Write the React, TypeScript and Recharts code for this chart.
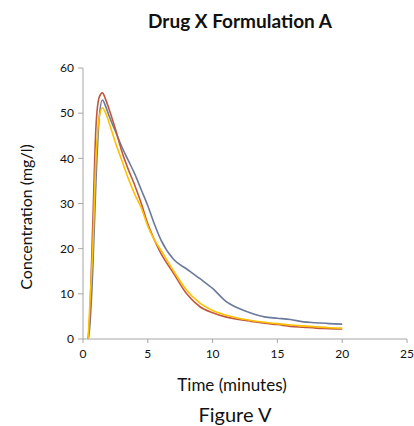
import { Line, LineChart, XAxis, YAxis } from "recharts";

const times = [0.4, 0.5, 0.75, 1, 1.25, 1.5, 1.75, 2, 2.5, 3, 3.5, 4, 4.5, 5, 5.5, 6, 7, 8, 9, 10, 11, 12, 13, 14, 15, 16, 17, 18, 19, 20];
const seriesBlue = [0, 2, 15, 35, 49, 52.9, 51.5, 49.5, 46, 42.5, 39.5, 36.5, 33, 29.5, 25.5, 22, 17.6, 15.5, 13.4, 11.2, 8.4, 6.8, 5.7, 4.9, 4.6, 4.3, 3.8, 3.6, 3.4, 3.3];
const seriesRed = [0, 4, 25, 47, 53.5, 54.5, 53, 51, 46.5, 41.5, 37.5, 34, 30, 25.5, 22, 19, 14.5, 10, 7.2, 5.8, 4.9, 4.3, 3.9, 3.5, 3.2, 2.8, 2.6, 2.4, 2.3, 2.2];
const seriesYellow = [0, 6, 20, 40, 49, 51.2, 50, 48, 43.5, 39.5, 35.5, 32, 29, 25, 22, 19.7, 15, 10.8, 8, 6.3, 5.3, 4.6, 4.1, 3.7, 3.4, 3.1, 2.9, 2.7, 2.5, 2.4];
const xTicks = [0, 5, 10, 15, 20, 25];
const yTicks = [0, 10, 20, 30, 40, 50, 60];

const data = times.map((t, i) => ({
  t,
  blue: seriesBlue[i],
  red: seriesRed[i],
  yellow: seriesYellow[i]
}));

const font = "Lato, 'Open Sans', sans-serif";
const axisColor = "#a6a6a6";
const tickStyle = { fontSize: 12, fill: "#111", fontFamily: font };

const text = (left: number, top: number, size: number, weight = 400, rotate = 0) =>
  ({
    position: "absolute",
    left,
    top,
    transform: `translate(-50%, -50%) rotate(${rotate}deg)`,
    fontFamily: font,
    fontSize: size,
    fontWeight: weight,
    color: "#111",
    whiteSpace: "nowrap"
  }) as const;

export default function App() {
  return (
    <div style={{ position: "absolute", left: 0, top: 0, width: 414, height: 426, background: "#fff" }}>
      <LineChart
        width={414}
        height={426}
        data={data}
        margin={{ top: 68, right: 7, bottom: 57, left: 43 }}
      >
        <XAxis
          dataKey="t"
          type="number"
          domain={[0, 25]}
          ticks={xTicks}
          stroke={axisColor}
          tickSize={4}
          tickMargin={6}
          tick={tickStyle}
          height={30}
        />
        <YAxis
          domain={[0, 60]}
          ticks={yTicks}
          stroke={axisColor}
          tickSize={5}
          tickMargin={4}
          tick={tickStyle}
          width={40}
        />
        <Line type="monotone" dataKey="blue" stroke="#6b7a9c" strokeWidth={1.6} dot={false} isAnimationActive={false} />
        <Line type="monotone" dataKey="red" stroke="#c0583f" strokeWidth={1.6} dot={false} isAnimationActive={false} />
        <Line type="monotone" dataKey="yellow" stroke="#ffc000" strokeWidth={1.6} dot={false} isAnimationActive={false} />
      </LineChart>
      <div style={text(240, 20, 19, 700)}>Drug X Formulation A</div>
      <div style={text(25, 217, 16, 400, -90)}>Concentration (mg/l)</div>
      <div style={text(232, 384, 17)}>Time (minutes)</div>
      <div style={text(235, 414, 20)}>Figure V</div>
    </div>
  );
}
